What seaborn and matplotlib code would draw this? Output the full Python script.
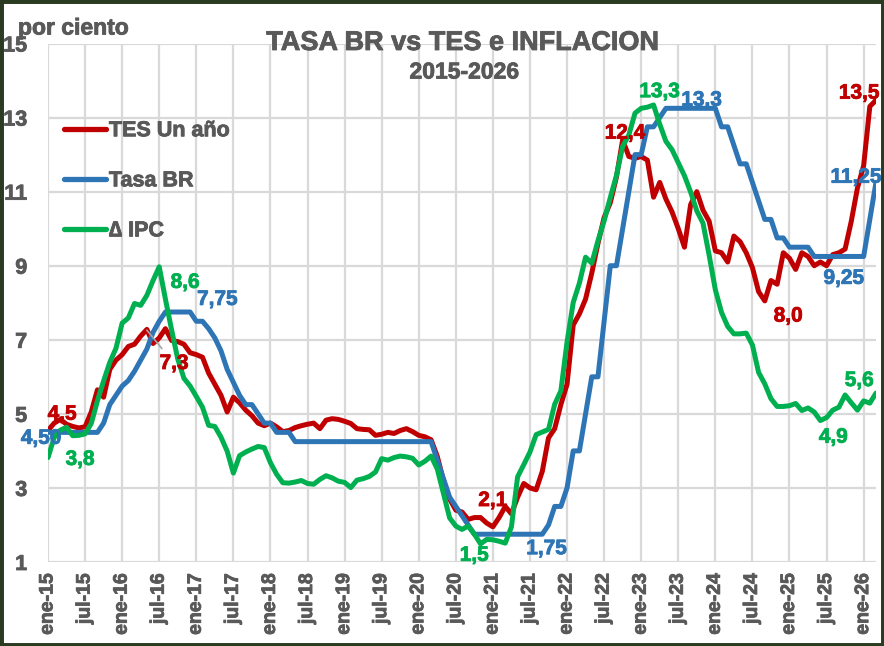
import numpy as np
import pandas as pd
import matplotlib
matplotlib.use("Agg")
import matplotlib.pyplot as plt
import matplotlib.patches as mpatches
import matplotlib.patheffects as pe
import seaborn as sns

# ---------------- data ----------------
months = ["ene", "feb", "mar", "abr", "may", "jun", "jul", "ago", "sep", "oct", "nov", "dic"]
years = list(range(15, 27))
periods = [f"{m}-{y}" for y in years for m in months][:135]   # ene-15 ... mar-26

tes_un_ano = [
    4.55, 4.75, 4.85, 4.72, 4.66, 4.62, 4.65, 5.05, 5.65, 5.45, 6.20, 6.45,
    6.60, 6.82, 6.88, 7.10, 7.28, 6.90, 7.05, 7.30, 6.98, 6.95, 6.88, 6.65,
    6.60, 6.53, 6.10, 5.80, 5.50, 5.05, 5.45, 5.30, 5.10, 4.95, 4.75, 4.68,
    4.75, 4.65, 4.52, 4.55, 4.63, 4.68, 4.72, 4.75, 4.60, 4.83, 4.87, 4.85,
    4.80, 4.74, 4.60, 4.58, 4.57, 4.42, 4.45, 4.50, 4.47, 4.55, 4.60, 4.52,
    4.42, 4.38, 4.30, 3.85, 3.20, 2.70, 2.40, 2.35, 2.15, 2.20, 2.20, 2.05,
    1.95, 2.20, 2.50, 2.30, 2.75, 3.12, 3.00, 2.95, 3.45, 4.35, 4.60, 5.25,
    5.80, 7.40, 7.70, 8.10, 8.80, 9.60, 10.30, 10.70, 11.40, 12.40, 11.95, 11.90,
    11.95, 11.85, 10.85, 11.25, 10.80, 10.45, 10.00, 9.50, 10.65, 11.00, 10.50, 10.20,
    9.40, 9.35, 9.10, 9.80, 9.65, 9.35, 8.95, 8.30, 8.05, 8.60, 8.50, 9.35,
    9.20, 8.90, 9.35, 9.25, 9.00, 9.10, 9.00, 9.30, 9.35, 9.45, 10.20, 11.10,
    11.70, 13.30, 13.47,
]

tasa_br = [
    4.50, 4.50, 4.50, 4.50, 4.50, 4.50, 4.50, 4.50, 4.50, 4.75, 5.25, 5.50,
    5.75, 5.90, 6.15, 6.45, 6.75, 7.20, 7.50, 7.75, 7.75, 7.75, 7.75, 7.75,
    7.50, 7.50, 7.30, 7.05, 6.70, 6.20, 5.85, 5.50, 5.25, 5.25, 5.00, 4.75,
    4.75, 4.50, 4.50, 4.50, 4.25, 4.25, 4.25, 4.25, 4.25, 4.25, 4.25, 4.25,
    4.25, 4.25, 4.25, 4.25, 4.25, 4.25, 4.25, 4.25, 4.25, 4.25, 4.25, 4.25,
    4.25, 4.25, 4.25, 3.75, 3.25, 2.75, 2.50, 2.25, 2.00, 1.75, 1.75, 1.75,
    1.75, 1.75, 1.75, 1.75, 1.75, 1.75, 1.75, 1.75, 1.75, 2.00, 2.50, 2.50,
    3.00, 4.00, 4.00, 5.00, 6.00, 6.00, 7.50, 9.00, 9.00, 10.00, 11.00, 12.00,
    12.00, 12.75, 12.75, 13.00, 13.25, 13.25, 13.25, 13.25, 13.25, 13.25, 13.25, 13.25,
    13.25, 12.75, 12.75, 12.25, 11.75, 11.75, 11.25, 10.75, 10.25, 10.25, 9.75, 9.75,
    9.50, 9.50, 9.50, 9.50, 9.25, 9.25, 9.25, 9.25, 9.25, 9.25, 9.25, 9.25,
    9.25, 10.25, 11.25,
]

ipc = [
    3.82, 4.36, 4.56, 4.64, 4.41, 4.42, 4.46, 4.74, 5.35, 5.89, 6.39, 6.77,
    7.45, 7.59, 7.98, 7.93, 8.20, 8.60, 8.97, 8.10, 7.27, 6.48, 5.96, 5.75,
    5.47, 5.18, 4.69, 4.66, 4.37, 3.99, 3.40, 3.87, 3.97, 4.05, 4.12, 4.09,
    3.68, 3.37, 3.14, 3.13, 3.16, 3.20, 3.12, 3.10, 3.23, 3.33, 3.27, 3.18,
    3.15, 3.01, 3.21, 3.25, 3.31, 3.43, 3.79, 3.75, 3.82, 3.86, 3.84, 3.80,
    3.62, 3.72, 3.86, 3.51, 2.85, 2.19, 1.97, 1.88, 1.97, 1.75, 1.49, 1.61,
    1.60, 1.56, 1.51, 1.95, 3.30, 3.63, 3.97, 4.44, 4.51, 4.58, 5.26, 5.62,
    6.94, 8.01, 8.53, 9.23, 9.07, 9.67, 10.21, 10.84, 11.44, 12.22, 12.53, 13.12,
    13.25, 13.28, 13.34, 12.82, 12.36, 12.13, 11.78, 11.43, 10.99, 10.48, 10.15, 9.28,
    8.35, 7.74, 7.36, 7.16, 7.16, 7.18, 6.86, 6.12, 5.81, 5.41, 5.20, 5.20,
    5.22, 5.28, 5.09, 5.16, 5.05, 4.82, 4.90, 5.10, 5.18, 5.51, 5.30, 5.10,
    5.35, 5.29, 5.56,
]

series_names = ["TES Un año", "Tasa BR", "\u2206 IPC"]
y_ticks = [1, 3, 5, 7, 9, 11, 13, 15]
tick_every = 6
tick_labels = [periods[i] for i in range(0, len(periods), tick_every)]

# value labels: (text, series, x-position in months, y value)
value_labels = [
    ("4,5", 0, 2.3, 4.99), ("4,50", 1, -1.1, 4.34), ("3,8", 2, 5.2, 3.77),
    ("8,6", 2, 22.2, 8.55), ("7,75", 1, 27.4, 8.09), ("7,3", 0, 20.4, 6.36),
    ("2,1", 0, 72.0, 2.66), ("1,5", 2, 69.0, 1.18), ("1,75", 1, 80.7, 1.36),
    ("12,4", 0, 93.4, 12.58), ("13,3", 2, 99.0, 13.70), ("13,3", 1, 105.8, 13.47),
    ("13,5", 0, 131.3, 13.66), ("11,25", 1, 130.8, 11.39), ("9,25", 1, 128.8, 8.66),
    ("8,0", 0, 119.8, 7.64), ("5,6", 2, 131.3, 5.90), ("4,9", 2, 127.1, 4.37),
]

# ---------------- style ----------------
sns.set_style("white")
plt.rcParams["font.family"] = ["Liberation Sans", "DejaVu Sans"]
plt.rcParams["font.weight"] = "bold"

colors = ["#C00000", "#2E75B6", "#00B050"]
gray = "#595959"

def heavy(c):
    return [pe.withStroke(linewidth=0.6, foreground=c)]

n = len(periods)
df = pd.DataFrame({
    "idx": np.tile(np.arange(n), 3),
    "valor": tes_un_ano + tasa_br + ipc,
    "serie": np.repeat(series_names, n),
})

fig = plt.figure(figsize=(8.84, 6.46), dpi=100)
ax = fig.add_axes([48 / 884, 1 - 562 / 646, (876 - 48) / 884, (562 - 43.5) / 646])

sns.lineplot(data=df, x="idx", y="valor", hue="serie", hue_order=series_names,
             palette=colors, linewidth=3.6, ax=ax, legend=True)

ax.set_xlim(0, n - 1)
ax.set_ylim(1, 15)
ax.set_yticks(y_ticks)
ax.set_yticklabels([str(v) for v in y_ticks], fontweight="bold", fontsize=15.5, color=gray,
                   path_effects=heavy(gray))
ax.set_xticks(range(0, n, tick_every))
ax.set_xticklabels(tick_labels, rotation=90, fontweight="bold", fontsize=14, color=gray,
                   path_effects=heavy(gray))
ax.tick_params(axis="y", length=0, pad=15)
ax.tick_params(axis="x", length=0, pad=8)
ax.grid(True, color="#D9D9D9", linewidth=1.6)
ax.set_axisbelow(True)
for s in ax.spines.values():
    s.set_visible(False)
ax.set_xlabel("")
ax.set_ylabel("")

# legend
handles, labels = ax.get_legend_handles_labels()
for h in handles:
    h.set_linewidth(3.8)
leg = ax.legend(handles, labels, loc="upper left", bbox_to_anchor=(0.019, 0.852),
                frameon=False, handlelength=1.95, handletextpad=0.15, labelspacing=1.35,
                borderpad=0, borderaxespad=0,
                prop={"family": ["Liberation Sans", "DejaVu Sans"], "weight": "bold", "size": 15.5})
for t in leg.get_texts():
    t.set_color(gray)
    t.set_path_effects(heavy(gray))

# value labels
for text, si, xv, yv in value_labels:
    if text == "7,3":
        ax.annotate(text, xy=(16.0, 7.26), xytext=(xv, yv), ha="center", va="center",
                    color=colors[si], fontsize=15, fontweight="bold",
                    path_effects=heavy(colors[si]),
                    arrowprops=dict(arrowstyle="-", color="#A6A6A6", lw=1.2, shrinkA=2, shrinkB=0))
    else:
        ax.text(xv, yv, text, ha="center", va="center", color=colors[si],
                fontsize=15, fontweight="bold", clip_on=False, path_effects=heavy(colors[si]))

# titles
fig.text(463 / 884, 1 - 43 / 646, "TASA BR vs TES e INFLACION", ha="center", va="center",
         fontsize=19.5, fontweight="bold", color=gray, path_effects=heavy(gray))
fig.text(464 / 884, 1 - 72 / 646, "2015-2026", ha="center", va="center",
         fontsize=16.5, fontweight="bold", color=gray, path_effects=heavy(gray))
fig.text(18 / 884, 1 - 28 / 646, "por ciento", ha="left", va="center",
         fontsize=16.5, fontweight="bold", color=gray, path_effects=heavy(gray))

# outer frame
fig.patches.append(mpatches.Rectangle((0, 0), 1, 1, transform=fig.transFigure, fill=False,
                                      edgecolor="#2b3b22", linewidth=5))

fig.savefig("out.png", dpi=100)
